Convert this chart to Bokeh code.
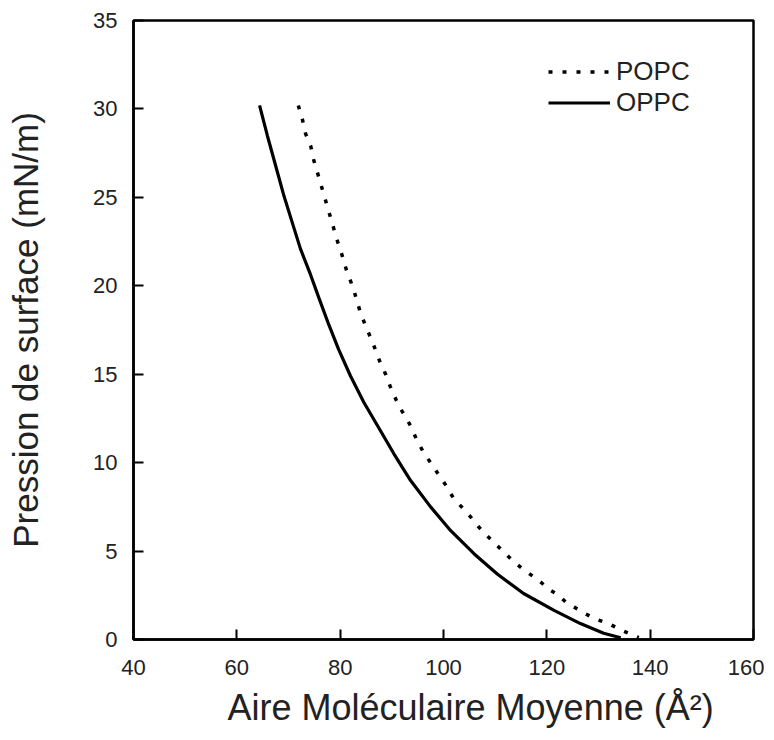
from bokeh.plotting import figure
from bokeh.models import Range1d, FixedTicker, Legend, LegendItem, Title
from bokeh.embed import file_html
from bokeh.resources import INLINE

# Data (area in Å², pressure in mN/m)
popc_area = [71.9, 72.7, 73.3, 74.3, 74.9, 75.7, 76.4, 77.2, 78.0, 78.8, 79.5, 80.4,
             81.2, 82.1, 82.9, 83.8, 84.7, 85.7, 86.8, 87.7, 88.8, 89.7, 90.9, 92.0,
             93.6, 94.8, 96.1, 97.5, 99.1, 100.5, 101.9, 103.5, 105.2, 106.7, 108.3,
             109.9, 111.8, 113.6, 115.5, 117.2, 118.8, 120.6, 122.3, 123.9, 125.5,
             127.2, 129.1, 132.3, 134.3, 136.2, 137.8]
popc_pressure = [30.2, 29.4, 28.6, 27.9, 27.1, 26.3, 25.6, 24.8, 24.0, 23.2, 22.5, 21.7,
                 20.9, 20.2, 19.5, 18.6, 17.9, 17.2, 16.4, 15.7, 15.0, 14.3, 13.5, 12.9,
                 12.1, 11.3, 10.6, 10.0, 9.3, 8.7, 8.0, 7.5, 6.95, 6.4, 5.9,
                 5.45, 4.9, 4.4, 3.95, 3.6, 3.25, 2.8, 2.5, 2.05, 1.8,
                 1.5, 1.2, 0.85, 0.55, 0.3, 0.1]

oppc_area = [64.4, 65.9, 67.5, 69.1, 70.7, 72.3, 74.3, 75.9, 77.8, 79.7, 82.0, 84.6,
             87.8, 90.4, 93.6, 97.5, 101.4, 105.9, 110.4, 115.5, 121.4, 126.5,
             131.0, 134.3]
oppc_pressure = [30.2, 28.5, 26.8, 25.1, 23.6, 22.1, 20.6, 19.3, 17.8, 16.4, 14.9, 13.4,
                 11.8, 10.5, 9.0, 7.5, 6.15, 4.85, 3.7, 2.6, 1.65, 0.9,
                 0.35, 0.1]

x_ticks = [40, 60, 80, 100, 120, 140, 160]
y_ticks = [0, 5, 10, 15, 20, 25, 30, 35]
x_title = "Aire Moléculaire Moyenne (Å²)"
y_title = "Pression de surface (mN/m)"

FONT = "Liberation Sans"
TXT = "#222222"

p = figure(width=764, height=740, output_backend="svg", toolbar_location=None,
           x_range=Range1d(40, 160), y_range=Range1d(0, 35),
           min_border_left=133, min_border_right=11, min_border_top=20,
           min_border_bottom=101)

p.xgrid.visible = False
p.ygrid.visible = False
p.outline_line_color = "black"
p.outline_line_width = 2.5
p.background_fill_color = "white"
p.border_fill_color = "white"

for ax, ticks in ((p.xaxis[0], x_ticks), (p.yaxis[0], y_ticks)):
    ax.ticker = FixedTicker(ticks=ticks)
    ax.minor_tick_line_color = None
    ax.major_tick_in = 10
    ax.major_tick_out = 0
    ax.major_tick_line_width = 2
    ax.major_tick_line_color = "black"
    ax.axis_line_width = 2.5
    ax.axis_line_color = "black"
    ax.major_label_text_font = FONT
    ax.major_label_text_font_size = "22px"
    ax.major_label_text_color = TXT
    ax.axis_label_text_font = FONT
    ax.axis_label_text_font_style = "normal"
    ax.axis_label_text_color = TXT

p.xaxis.major_label_standoff = 20
p.yaxis.major_label_standoff = 16
p.yaxis.axis_label = y_title
p.yaxis.axis_label_text_font_size = "35px"
p.yaxis.axis_label_standoff = 45

# x-axis title, placed slightly right of centre as in the reference
xt = Title(text=x_title, align="left", offset=94, standoff=15,
           text_font=FONT, text_font_size="36px", text_font_style="normal",
           text_color=TXT)
p.add_layout(xt, "below")

r_popc = p.line(popc_area, popc_pressure, line_color="black", line_width=3.5,
                line_dash="4 10")
r_oppc = p.line(oppc_area, oppc_pressure, line_color="black", line_width=3.2)

legend = Legend(items=[LegendItem(label="POPC", renderers=[r_popc]),
                       LegendItem(label="OPPC", renderers=[r_oppc])],
                location=(415, 521))
legend.border_line_color = None
legend.background_fill_alpha = 0
legend.padding = 0
legend.margin = 0
legend.spacing = 0
legend.glyph_width = 62
legend.glyph_height = 27
legend.label_height = 27
legend.label_standoff = 6
legend.label_text_font = FONT
legend.label_text_font_size = "26px"
legend.label_text_color = TXT
p.add_layout(legend, "center")

open("out.html", "w").write(file_html(p, INLINE))
